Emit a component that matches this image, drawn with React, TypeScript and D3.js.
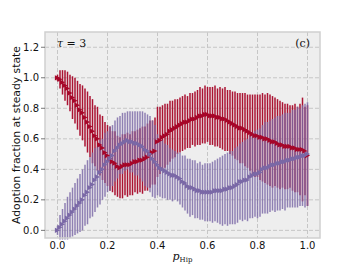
import React from 'react';
import * as d3 from 'd3';

// p_Hip sweep, 0 to 1 in steps of 0.01
const pHip = d3.range(0, 101).map((i) => i / 100);

const redMean = [
  1.00, 0.99, 0.97, 0.95, 0.93, 0.90, 0.87, 0.85, 0.82, 0.79,
  0.77, 0.74, 0.71, 0.68, 0.65, 0.62, 0.60, 0.56, 0.54, 0.51,
  0.49, 0.47, 0.45, 0.44, 0.42, 0.41, 0.42, 0.43, 0.43, 0.43,
  0.44, 0.45, 0.45, 0.46, 0.46, 0.47, 0.48, 0.50, 0.51, 0.52,
  0.58, 0.59, 0.61, 0.62, 0.63, 0.65, 0.66, 0.67, 0.68, 0.69,
  0.70, 0.71, 0.71, 0.72, 0.73, 0.73, 0.74, 0.75, 0.75, 0.76,
  0.76, 0.75, 0.75, 0.75, 0.74, 0.74, 0.73, 0.73, 0.72, 0.71,
  0.70, 0.69, 0.68, 0.67, 0.67, 0.66, 0.65, 0.64, 0.63, 0.62,
  0.62, 0.61, 0.61, 0.60, 0.60, 0.59, 0.58, 0.58, 0.57, 0.56,
  0.56, 0.55, 0.55, 0.55, 0.54, 0.54, 0.53, 0.53, 0.53, 0.52,
  0.49,
];
const redErr = [
  0.02, 0.06, 0.08, 0.10, 0.11, 0.12, 0.14, 0.15, 0.16, 0.17,
  0.18, 0.19, 0.20, 0.20, 0.21, 0.20, 0.21, 0.20, 0.21, 0.20,
  0.20, 0.21, 0.20, 0.21, 0.20, 0.20, 0.21, 0.20, 0.21, 0.20,
  0.21, 0.20, 0.21, 0.21, 0.22, 0.21, 0.22, 0.22, 0.21, 0.22,
  0.23, 0.22, 0.21, 0.21, 0.20, 0.20, 0.19, 0.19, 0.18, 0.18,
  0.18, 0.18, 0.17, 0.18, 0.17, 0.18, 0.18, 0.19, 0.18, 0.19,
  0.18, 0.19, 0.19, 0.20, 0.19, 0.20, 0.20, 0.21, 0.20, 0.21,
  0.21, 0.22, 0.22, 0.23, 0.23, 0.24, 0.24, 0.25, 0.26, 0.27,
  0.27, 0.28, 0.29, 0.29, 0.30, 0.30, 0.30, 0.29, 0.29, 0.29,
  0.28, 0.28, 0.28, 0.27, 0.28, 0.29, 0.28, 0.30, 0.34, 0.29,
  0.33,
];
const purpleMean = [
  0.00, 0.02, 0.04, 0.06, 0.08, 0.10, 0.12, 0.14, 0.16, 0.18,
  0.20, 0.23, 0.25, 0.28, 0.30, 0.33, 0.35, 0.38, 0.40, 0.43,
  0.45, 0.47, 0.49, 0.52, 0.54, 0.56, 0.57, 0.58, 0.59, 0.58,
  0.58, 0.57, 0.57, 0.56, 0.55, 0.53, 0.52, 0.50, 0.47, 0.45,
  0.43, 0.41, 0.40, 0.39, 0.38, 0.37, 0.36, 0.36, 0.35, 0.34,
  0.32, 0.31, 0.29, 0.28, 0.28, 0.27, 0.26, 0.26, 0.25, 0.25,
  0.25, 0.25, 0.25, 0.26, 0.26, 0.26, 0.26, 0.27, 0.27, 0.28,
  0.28, 0.29, 0.30, 0.32, 0.32, 0.33, 0.33, 0.35, 0.36, 0.37,
  0.37, 0.38, 0.40, 0.41, 0.41, 0.42, 0.43, 0.43, 0.44, 0.44,
  0.45, 0.45, 0.46, 0.46, 0.47, 0.47, 0.48, 0.48, 0.49, 0.49,
  0.50,
];
const purpleErr = [
  0.03, 0.08, 0.10, 0.12, 0.14, 0.15, 0.16, 0.17, 0.18, 0.19,
  0.20, 0.20, 0.21, 0.20, 0.21, 0.21, 0.20, 0.21, 0.20, 0.21,
  0.20, 0.21, 0.20, 0.20, 0.20, 0.19, 0.20, 0.19, 0.19, 0.20,
  0.20, 0.21, 0.21, 0.22, 0.23, 0.24, 0.24, 0.25, 0.25, 0.24,
  0.20, 0.19, 0.19, 0.18, 0.18, 0.17, 0.17, 0.16, 0.16, 0.17,
  0.17, 0.18, 0.18, 0.19, 0.18, 0.19, 0.18, 0.19, 0.18, 0.19,
  0.19, 0.19, 0.20, 0.20, 0.21, 0.22, 0.23, 0.23, 0.24, 0.24,
  0.24, 0.25, 0.25, 0.25, 0.26, 0.26, 0.27, 0.27, 0.28, 0.28,
  0.29, 0.29, 0.29, 0.30, 0.30, 0.30, 0.30, 0.31, 0.31, 0.31,
  0.31, 0.32, 0.31, 0.31, 0.32, 0.32, 0.33, 0.32, 0.33, 0.34,
  0.34,
];

const xTicks = [0, 0.2, 0.4, 0.6, 0.8, 1.0];
const yTicks = [0, 0.2, 0.4, 0.6, 0.8, 1.0, 1.2];

const RED = '#A60628';
const PURPLE = '#7A68A6';

const W = 357;
const H = 268;
const left = 45, right = 320, top = 32, bottom = 238;

export default function App() {
  const x = d3.scaleLinear().domain([-0.05, 1.05]).range([left, right]);
  const y = d3.scaleLinear().domain([-0.05, 1.3]).range([bottom, top]);
  const tri = 'M-2.6,-2.6L2.6,0L-2.6,2.6Z';

  const bars = (mean: number[], err: number[], color: string, op: number) =>
    pHip.map((p, i) => (
      <line key={i} x1={x(p)} x2={x(p)} y1={y(mean[i] - err[i])} y2={y(mean[i] + err[i])}
        stroke={color} strokeWidth={1.5} strokeOpacity={op} />
    ));
  const marks = (mean: number[], color: string) =>
    pHip.map((p, i) => (
      <path key={i} d={tri} transform={`translate(${x(p)},${y(mean[i])})`} fill={color} />
    ));

  return (
    <svg width={W} height={H} style={{ position: 'absolute', left: 0, top: 0 }}
      fontFamily="DejaVu Sans">
      <rect x={left} y={top} width={right - left} height={bottom - top} fill="#eeeeee" />
      {xTicks.map((t) => (
        <line key={'gx' + t} x1={x(t)} x2={x(t)} y1={top} y2={bottom}
          stroke="#c6c6c6" strokeWidth={1} strokeDasharray="4,2" />
      ))}
      {yTicks.map((t) => (
        <line key={'gy' + t} x1={left} x2={right} y1={y(t)} y2={y(t)}
          stroke="#c6c6c6" strokeWidth={1} strokeDasharray="4,2" />
      ))}
      <g>{bars(redMean, redErr, RED, 0.95)}</g>
      <g>{bars(purpleMean, purpleErr, PURPLE, 0.82)}</g>
      <g>{marks(redMean, RED)}</g>
      <g>{marks(purpleMean, PURPLE)}</g>
      <rect x={left} y={top} width={right - left} height={bottom - top} fill="none"
        stroke="#cfcfcf" strokeWidth={1.5} />
      {yTicks.map((t) => (
        <g key={'ty' + t}>
          <line x1={left - 4} x2={left} y1={y(t)} y2={y(t)} stroke="#555" strokeWidth={0.8} />
          <text x={left - 6} y={y(t)} dy="0.35em" textAnchor="end" fontSize={10} fill="#111">
            {t.toFixed(1)}
          </text>
        </g>
      ))}
      {xTicks.map((t) => (
        <text key={'tx' + t} x={x(t)} y={249} textAnchor="middle" fontSize={10} fill="#111">
          {t.toFixed(1)}
        </text>
      ))}
      <text transform={`translate(20,${(top + bottom) / 2}) rotate(-90)`} textAnchor="middle"
        fontSize={10.8} fill="#111">
        Adoption fraction at steady state
      </text>
      <text x={(left + right) / 2} y={260} textAnchor="middle" fontFamily="DejaVu Serif" fill="#111">
        <tspan fontStyle="italic" fontSize={11}>p</tspan>
        <tspan fontSize={7} dy={2}>Hip</tspan>
      </text>
      <text x={57} y={47} fontFamily="DejaVu Serif" fontSize={11} fill="#111">
        <tspan fontStyle="italic">τ</tspan>
        <tspan> = 3</tspan>
      </text>
      <text x={310} y={47} textAnchor="end" fontFamily="DejaVu Serif" fontSize={11} fill="#111">
        (c)
      </text>
    </svg>
  );
}
